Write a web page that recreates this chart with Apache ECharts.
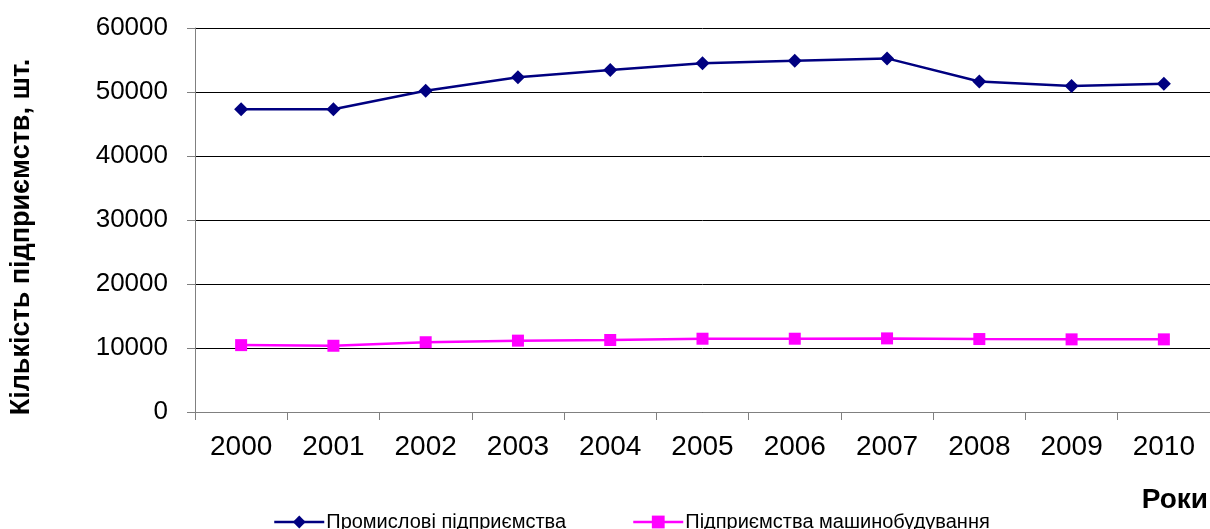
<!DOCTYPE html>
<html>
<head>
<meta charset="utf-8">
<script src="https://cdn.jsdelivr.net/npm/echarts@6/dist/echarts.min.js"></script>
<style>
  html, body { margin: 0; padding: 0; background: #fff; }
  #chart { width: 1210px; height: 529px; }
</style>
</head>
<body>
<div id="chart"></div>
<script>
  // роки
  var years = ['2000', '2001', '2002', '2003', '2004', '2005', '2006', '2007', '2008', '2009', '2010'];
  // промислові підприємства
  var industrial = [47300, 47300, 50200, 52300, 53450, 54500, 54900, 55250, 51650, 50950, 51300];
  // підприємства машинобудування
  var machinery = [10450, 10350, 10900, 11150, 11250, 11450, 11450, 11500, 11400, 11350, 11350];

  var font = '"Liberation Sans", Arial, sans-serif';

  var chart = echarts.init(document.getElementById('chart'));
  chart.setOption({
    animation: false,
    backgroundColor: '#fff',
    grid: {
      left: 195,
      top: 28,
      width: 1023,
      height: 384
    },
    legend: [{
      left: 268,
      top: 507,
      itemWidth: 50,
      itemHeight: 16,
      itemGap: 0,
      lineStyle: { width: 2.5 },
      textStyle: { fontFamily: font, fontSize: 20, color: '#000', padding: [0, 0, 0, -3] },
      data: ['Промислові підприємства']
    }, {
      left: 627,
      top: 507,
      itemWidth: 50,
      itemHeight: 16,
      itemGap: 0,
      lineStyle: { width: 2.5 },
      textStyle: { fontFamily: font, fontSize: 20, color: '#000', padding: [0, 0, 0, -3] },
      data: ['Підприємства машинобудування']
    }],
    graphic: [{
      type: 'text',
      x: 22,
      y: 237,
      rotation: Math.PI / 2,
      style: {
        text: 'Кількість підприємств, шт.',
        fontFamily: font,
        fontSize: 27,
        fontWeight: 'bold',
        fill: '#000',
        textAlign: 'center',
        textVerticalAlign: 'middle'
      }
    }, {
      type: 'text',
      x: 1208,
      y: 500,
      style: {
        text: 'Роки',
        fontFamily: font,
        fontSize: 28,
        fontWeight: 'bold',
        fill: '#000',
        textAlign: 'right',
        textVerticalAlign: 'middle'
      }
    }],
    xAxis: {
      type: 'category',
      data: years,
      boundaryGap: true,
      axisLine: { lineStyle: { color: '#808080', width: 1 } },
      axisTick: { show: true, length: 8, lineStyle: { color: '#808080' } },
      axisLabel: { fontFamily: font, fontSize: 28, color: '#000', margin: 21 },
      splitLine: { show: false }
    },
    yAxis: {
      type: 'value',
      min: 0,
      max: 60000,
      interval: 10000,
      axisLine: { show: true, lineStyle: { color: '#808080', width: 1 } },
      axisTick: { show: true, length: 8, lineStyle: { color: '#808080' } },
      axisLabel: {
        fontFamily: font, fontSize: 26, color: '#000', margin: 27,
        formatter: function (v) { return String(v); }
      },
      splitLine: { show: true, lineStyle: { color: '#000', width: 1 } }
    },
    series: [{
      name: 'Промислові підприємства',
      type: 'line',
      data: industrial,
      symbol: 'diamond',
      symbolSize: 14,
      lineStyle: { color: '#000080', width: 2.5 },
      itemStyle: { color: '#000080' }
    }, {
      name: 'Підприємства машинобудування',
      type: 'line',
      data: machinery,
      symbol: 'rect',
      symbolSize: 12,
      lineStyle: { color: '#ff00ff', width: 2.5 },
      itemStyle: { color: '#ff00ff' }
    }]
  });
</script>
</body>
</html>
